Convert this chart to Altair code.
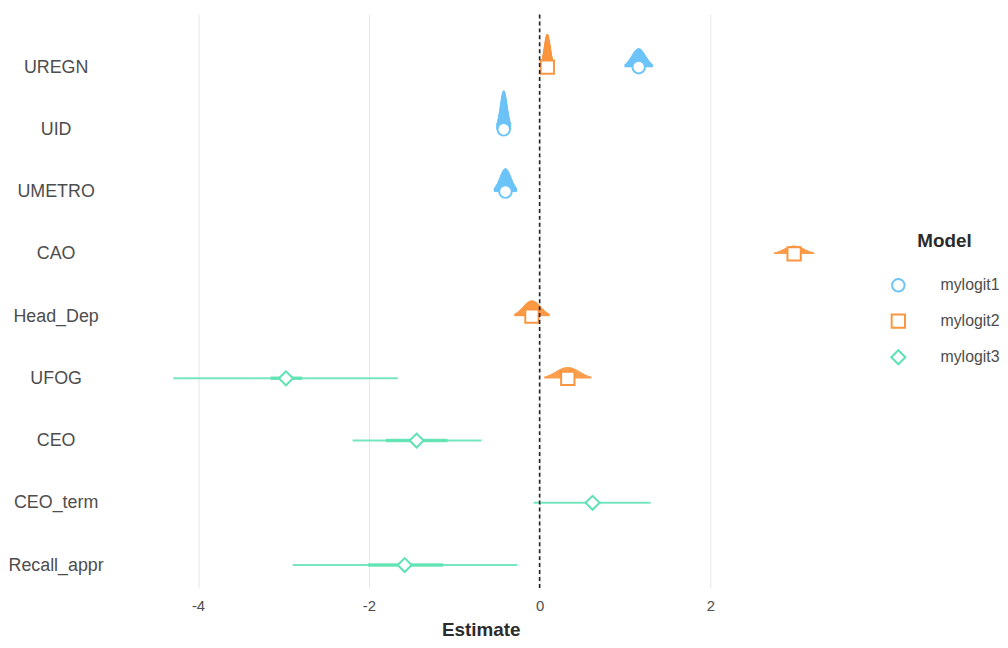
import altair as alt
import pandas as pd

terms = ["UREGN", "UID", "UMETRO", "CAO", "Head_Dep", "UFOG", "CEO", "CEO_term", "Recall_appr"]
models = ["mylogit1", "mylogit2", "mylogit3"]
colors = ["#6cc4f8", "#fa9640", "#5fe2b3"]

row_term = ["UREGN", "UID", "UMETRO", "UREGN", "CAO", "Head_Dep", "UFOG",
            "UFOG", "CEO", "CEO_term", "Recall_appr"]
row_model = ["mylogit1", "mylogit1", "mylogit1", "mylogit2", "mylogit2", "mylogit2", "mylogit2",
             "mylogit3", "mylogit3", "mylogit3", "mylogit3"]
estimate = [1.16, -0.42, -0.40, 0.09, 2.98, -0.09, 0.33, -2.97, -1.44, 0.62, -1.58]
ci_low = [1.00, -0.50, -0.53, 0.02, 2.75, -0.29, 0.06, -4.29, -2.19, -0.07, -2.89]
ci_high = [1.32, -0.34, -0.27, 0.16, 3.21, 0.11, 0.60, -1.66, -0.68, 1.30, -0.26]
inner_low = [1.16, -0.42, -0.40, 0.09, 2.98, -0.09, 0.33, -3.15, -1.80, 0.62, -2.01]
inner_high = [1.16, -0.42, -0.40, 0.09, 2.98, -0.09, 0.33, -2.78, -1.08, 0.62, -1.13]
# density peak height (in category-spacing units)
density_peak = [0.30, 0.62, 0.37, 0.53, 0.13, 0.25, 0.18, 0.0, 0.0, 0.0, 0.0]

df = pd.DataFrame({
    "term": row_term, "model": row_model, "est": estimate,
    "lo": ci_low, "hi": ci_high, "ilo": inner_low, "ihi": inner_high,
    "peak": density_peak,
})
df["idx"] = [terms.index(t) for t in row_term]

label_expr = "[" + ",".join("'" + t + "'" for t in terms) + "][datum.value]"

xscale = alt.Scale(domain=[-4.947, 3.567], nice=False, zero=False)
yscale = alt.Scale(domain=[-0.845, 8.367], reverse=True, nice=False, zero=False)
xaxis = alt.Axis(values=[-4, -2, 0, 2], labelExpr="'' + datum.value", grid=True,
                 gridColor="#E6E6E6", gridWidth=1,
                 ticks=False, domain=False, labelFontSize=15, labelColor="#4D4D4D",
                 labelPadding=11, labelFlush=False, title="Estimate", titleFontSize=19,
                 titleFontWeight="bold", titleColor="#2B2B2B", titlePadding=7)
yaxis = alt.Axis(values=list(range(len(terms))), labelExpr=label_expr, grid=False,
                 ticks=False, tickSize=0, domain=False, labelAlign="center",
                 labelBaseline="middle", labelPadding=62, labelFontSize=18,
                 labelColor="#4D4D4D", title=None, labelOverlap=False, labelFlush=False)
cscale = alt.Scale(domain=models, range=colors)

base = alt.Chart(df)


def density_layer(model, col):
    return base.transform_filter(
        alt.datum.model == model
    ).transform_calculate(
        t="sequence(-1, 1.0001, 0.04)"
    ).transform_flatten(["t"]).transform_calculate(
        xv="(datum.lo + datum.hi) / 2 + datum.t * (datum.hi - datum.lo) / 2",
        yv="datum.idx - datum.peak * exp(-0.5 * pow(1.96 * datum.t, 2))",
    ).mark_area(color=col, opacity=0.95, stroke=col, strokeWidth=1, strokeOpacity=0.9).encode(
        x=alt.X("xv:Q", scale=xscale, axis=xaxis),
        y=alt.Y("yv:Q", scale=yscale, axis=yaxis),
        y2="idx:Q",
        detail="term:N",
        order="t:Q",
    )


dens1 = density_layer("mylogit1", colors[0])
dens2 = density_layer("mylogit2", colors[1])

green = base.transform_filter(alt.datum.model == "mylogit3")
thin = green.mark_rule(strokeWidth=2, opacity=0.85, color=colors[2]).encode(
    x=alt.X("lo:Q", scale=xscale, axis=xaxis),
    x2="hi:Q",
    y=alt.Y("idx:Q", scale=yscale, axis=yaxis),
)
thick = green.mark_rule(strokeWidth=3.5, opacity=0.9, color=colors[2]).encode(
    x=alt.X("ilo:Q", scale=xscale, axis=xaxis),
    x2="ihi:Q",
    y=alt.Y("idx:Q", scale=yscale, axis=yaxis),
)

zero = alt.Chart(pd.DataFrame({"z": [0.0]})).mark_rule(
    color="#222222", strokeDash=[4, 3], strokeWidth=1.6
).encode(x=alt.X("z:Q", scale=xscale, axis=xaxis))

legend = alt.Legend(orient="none", legendX=779, legendY=219, title="Model",
                    titleFontSize=19, titleFontWeight="bold", titleColor="#2B2B2B",
                    titleAnchor="middle", titlePadding=27, labelFontSize=16,
                    labelColor="#4D4D4D", labelOffset=34, rowPadding=14,
                    symbolStrokeWidth=2, padding=0, symbolFillColor="white")

points = base.mark_point(filled=False, fill="white", strokeWidth=2, opacity=1).encode(
    x=alt.X("est:Q", scale=xscale, axis=xaxis),
    y=alt.Y("idx:Q", scale=yscale, axis=yaxis),
    color=alt.Color("model:N", scale=cscale, legend=legend),
    shape=alt.Shape("model:N", scale=alt.Scale(domain=models, range=["circle", "square", "diamond"]), legend=legend),
    size=alt.Size("model:N", scale=alt.Scale(domain=models, range=[160, 200, 380]), legend=legend),
)

chart = alt.layer(dens1, dens2, thin, thick, points, zero).properties(
    width=733, height=578,
    autosize=alt.AutoSizeParams(type="none"),
    padding={"left": 110, "top": 4, "right": 157, "bottom": 54},
).configure(font="Liberation Sans", view=alt.ViewConfig(strokeWidth=0, stroke="transparent"))

chart.save("out.html", embed_options={"renderer": "svg", "actions": False})
